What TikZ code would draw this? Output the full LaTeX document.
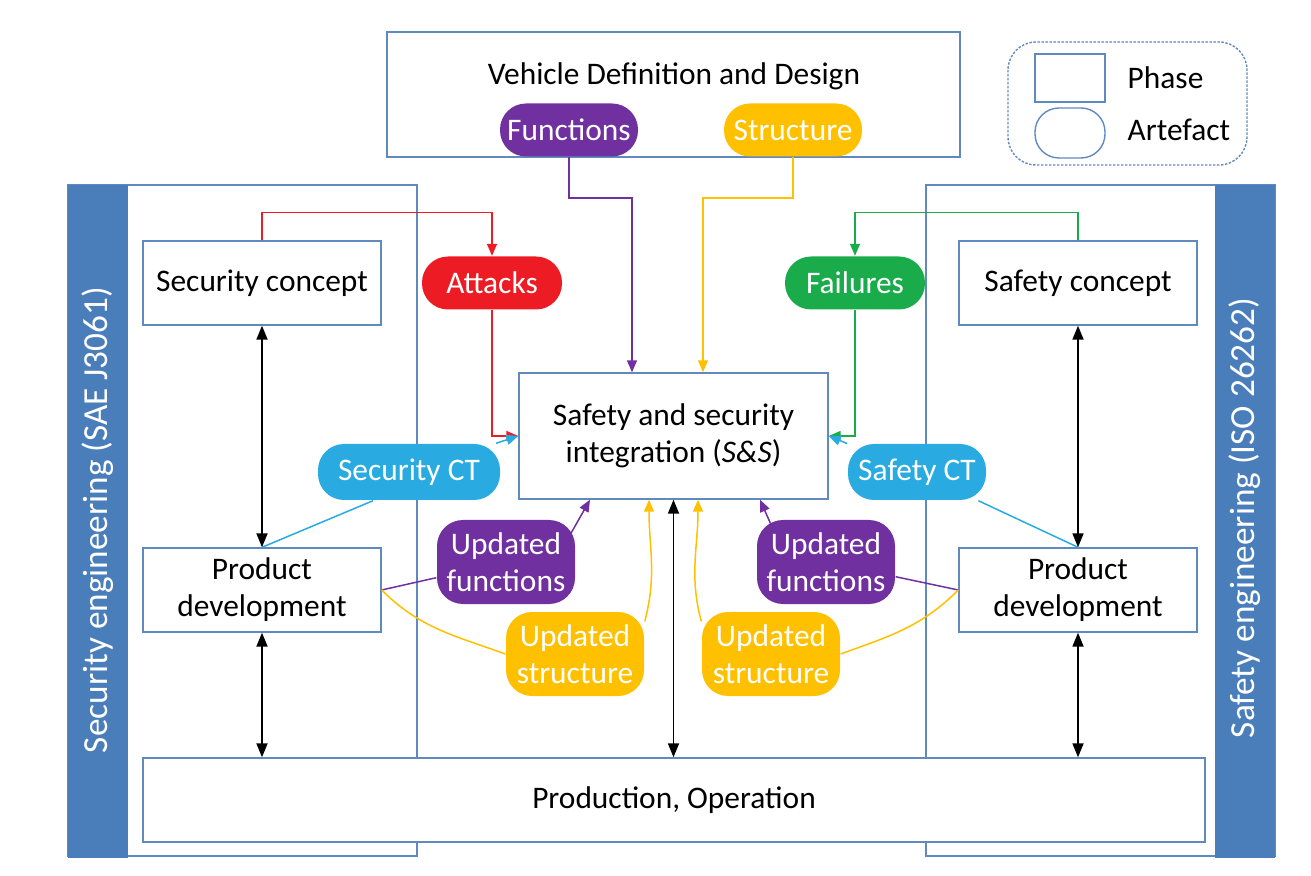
\documentclass[tikz,border=0pt]{standalone}
\usepackage{fontspec}
\setmainfont{Carlito}
\usetikzlibrary{arrows.meta}
\definecolor{phaseblue}{RGB}{96,137,190}
\definecolor{laneblue}{RGB}{74,126,187}
\definecolor{funcpurple}{RGB}{112,48,160}
\definecolor{structgold}{RGB}{255,192,0}
\definecolor{attackred}{RGB}{237,28,36}
\definecolor{failgreen}{RGB}{26,171,75}
\definecolor{ctblue}{RGB}{41,171,226}

\begin{document}
\begin{tikzpicture}[x=0.5pt,y=0.5pt,line width=0.7pt,font=\fontsize{15.7}{18.5}\selectfont]
    \tikzstyle{phase}=[draw=phaseblue,fill=white,inner sep=0pt,align=center,minimum width=119pt,minimum height=42pt]
    \tikzstyle{artefact}=[rounded corners=13pt,text=white,inner sep=0pt,align=center,minimum width=69pt,minimum height=26.5pt]
    \tikzstyle{twoline}=[minimum height=42pt]
    \tikzstyle{flow}=[-{Triangle[length=6pt,width=5pt]},line width=0.75pt]
    \tikzstyle{both}=[{Triangle[length=7pt,width=5.5pt]}-{Triangle[length=7pt,width=5.5pt]},line width=0.9pt]
    \tikzstyle{lane label}=[rotate=90,text=white,font=\fontsize{17.6}{20}\selectfont]

    \useasboundingbox (0,0) rectangle (1311,-876);

    % Draw the two engineering lanes
    \draw[phaseblue] (68,-185) rectangle (417,-856);
    \draw[phaseblue] (926,-185) rectangle (1275,-856);
    \fill[laneblue] (68,-185) rectangle (128,-858);
    \fill[laneblue] (1215,-185) rectangle (1275,-858);
    \node[lane label] (secL) at (98,-520) {Security engineering (SAE J3061)};
    \node[lane label] (safL) at (1245,-518) {Safety engineering (ISO 26262)};

    % Draw the legend
    \draw[phaseblue,dash pattern=on 1.2pt off 0.8pt,rounded corners=14pt] (1008,-42) rectangle (1247,-165);
    \node[draw=phaseblue,minimum width=35pt,minimum height=24pt] (lgP) at (1070,-78) {};
    \node[draw=phaseblue,rounded corners=12pt,minimum width=35pt,minimum height=25pt] (lgA) at (1070,-133) {};
    \node[anchor=west,inner sep=0pt] (lgPt) at (1127,-78) {Phase};
    \node[anchor=west,inner sep=0pt] (lgAt) at (1127,-130) {Artefact};

    % Draw the vehicle definition phase
    \node[phase,minimum width=286.5pt,minimum height=62.5pt] (VD) at (673.5,-94.5) {};
    \node (VDt) at (674,-76) {Vehicle Definition and Design};
    \node[artefact,fill=funcpurple] (FN) at (569,-130) {Functions};
    \node[artefact,fill=structgold] (ST) at (793,-130) {Structure};

    % Draw the phase nodes
    \node[phase] (SC) at (262,-283) {Security concept};
    \node[phase] (PDL) at (262,-590) {Product\\development};
    \node[phase] (SAC) at (1078,-283) {Safety concept};
    \node[phase] (PDR) at (1078,-590) {Product\\development};
    \node[phase,minimum width=531pt] (PO) at (674,-800) {Production, Operation};
    \node[phase,minimum width=154.5pt,minimum height=63pt] (SS) at (673.5,-436) {Safety and security\\integration (\textit{S\&S})};

    % Draw the artefact nodes
    \node[artefact,fill=attackred,minimum width=70pt] (AT) at (492,-283) {Attacks};
    \node[artefact,fill=failgreen,minimum width=70pt] (FA) at (855,-283) {Failures};
    \node[artefact,fill=ctblue,minimum width=91pt,minimum height=28pt] (SCT) at (409,-472) {Security CT};
    \node[artefact,fill=ctblue,minimum height=28pt] (SFT) at (917,-472) {Safety CT};
    \node[artefact,twoline,fill=funcpurple] (UFL) at (506,-562) {Updated\\functions};
    \node[artefact,twoline,fill=structgold] (USL) at (575,-654) {Updated\\structure};
    \node[artefact,twoline,fill=funcpurple] (UFR) at (826,-562) {Updated\\functions};
    \node[artefact,twoline,fill=structgold] (USR) at (771,-654) {Updated\\structure};

    % Attacks and failures into the integration
    \draw[attackred,flow] (SC.north) -- ++(0,28) -| (AT.north);
    \draw[attackred,flow] (AT.south) |- (SS.west);
    \draw[failgreen,flow] (SAC.north) -- ++(0,28) -| (FA.north);
    \draw[failgreen,flow] (FA.south) |- (SS.east);

    % Functions and structure from the vehicle design
    \draw[funcpurple,flow] (FN.south) -- ++(0,-41) -| ([xshift=-20.75pt]SS.north);
    \draw[structgold,flow] (ST.south) -- ++(0,-41) -| ([xshift=14.75pt]SS.north);

    % Concept tailoring
    \draw[ctblue,line width=0.75pt] (PDL.north) -- ([xshift=-18pt]SCT.south);
    \draw[ctblue,flow] (SCT) -- (SS.west);
    \draw[ctblue,line width=0.75pt] (PDR.north) -- (SFT);
    \draw[ctblue,flow] (SFT) -- (SS.east);

    % Updated artefacts from product development
    \draw[funcpurple,line width=0.75pt] (PDL.east) -- (UFL);
    \draw[funcpurple,flow] ([shift={(64,27)}]UFL.center) -- ([xshift=-41.75pt]SS.south);
    \draw[structgold,line width=0.75pt] (PDL.east) to[out=-45,in=160] (USL.west);
    \draw[structgold,flow] (USL.25) to[out=75,in=-90] ([xshift=-12.25pt]SS.south);
    \draw[funcpurple,line width=0.75pt] (PDR.west) -- (UFR);
    \draw[funcpurple,flow] ([shift={(-54,35)}]UFR.center) -- ([xshift=43.25pt]SS.south);
    \draw[structgold,line width=0.75pt] (PDR.west) to[out=-135,in=20] (USR.east);
    \draw[structgold,flow] (USR.155) to[out=105,in=-90] ([xshift=12.25pt]SS.south);

    % Phase to phase links
    \foreach \top/\bot in {SC/PDL,SAC/PDR}
        \draw[both] (\top.south) -- (\bot.north);
    \foreach \src in {PDL,SS,PDR}
        \draw[both] (\src.south) -- (\src.south |- PO.north);
\end{tikzpicture}
\end{document}
